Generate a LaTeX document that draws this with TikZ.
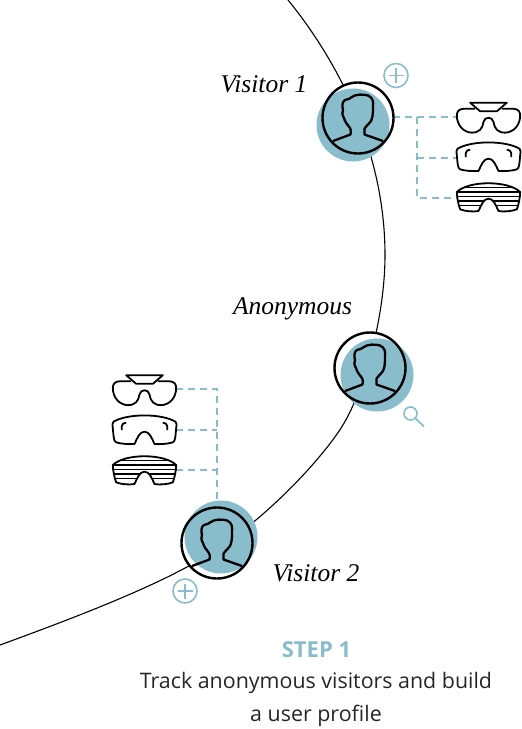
\documentclass[tikz,border=0pt]{standalone}
\usepackage{fontspec}
\setmainfont{Open Sans}
\newfontfamily\scriptface{Liberation Serif}
\definecolor{teal}{HTML}{8ABDCB}
\tikzset{
  link/.style={draw=teal,line width=1.6pt,dash pattern=on 7pt off 5pt},
  disc/.style={circle,fill=teal,draw=none,minimum size=73pt,inner sep=0pt},
  ring/.style={circle,draw=black,line width=2.4pt,minimum size=71pt,inner sep=0pt},
  hand/.style={font=\scriptface\itshape\fontsize{25.5}{25.5}\selectfont,inner sep=0pt},
  glass/.style={draw=black,line width=1.8pt,line join=round},
  plusicon/.pic={
    \draw[teal,line width=1.6pt] (0,0) circle (12);
    \draw[teal,line width=1.6pt] (-7.5,0) -- (7.5,0) (0,-7.5) -- (0,7.5);
  },
  person/.pic={
    \draw[black,line width=2.3pt,line join=round]
      (-25,23) -- (-7.5,16.5) .. controls (-7,13) and (-7,11) .. (-8,10)
      .. controls (-11,6) and (-13,4) .. (-14,0)
      .. controls (-16,-3) and (-16,-6) .. (-15,-8)
      .. controls (-16,-12) and (-16,-16) .. (-13,-18)
      .. controls (-10,-19) and (-8,-19) .. (-7,-20.5)
      .. controls (-3,-24) and (6,-24) .. (10,-22.5)
      .. controls (15,-20.5) and (15.5,-16) .. (15,-11)
      .. controls (15,-6) and (15,-1) .. (13,3)
      .. controls (10,7) and (7,9) .. (6.5,11) -- (6.5,16.5) -- (25,23);
  },
  glassone/.pic={
    \begin{scope}[x=.3333pt,y=-.3333pt]
    \draw[glass] (-55,-43) -- (55,-43) -- (25,-17) -- (-25,-17) -- cycle;
    \draw[glass] (-40,-25) -- (-72,-25) .. controls (-90,-25) and (-95,-15) .. (-95,-5)
      .. controls (-95,25) and (-75,46) .. (-50,47)
      .. controls (-28,47) and (-18,35) .. (-15,15)
      .. controls (-12,-2) and (12,-2) .. (15,15)
      .. controls (18,35) and (28,47) .. (50,47)
      .. controls (75,46) and (95,25) .. (95,-5)
      .. controls (95,-15) and (90,-25) .. (72,-25) -- (40,-25);
    \end{scope}
  },
  glasstwo/.pic={
    \begin{scope}[x=.3333pt,y=-.3333pt]
    \draw[glass] (-93,-25) .. controls (-50,-50) and (50,-50) .. (93,-25)
      .. controls (97,-20) and (97,-15) .. (95,-5)
      .. controls (93,15) and (93,35) .. (85,37)
      .. controls (70,42) and (45,43) .. (30,42)
      .. controls (22,25) and (15,5) .. (0,5)
      .. controls (-15,5) and (-22,25) .. (-30,42)
      .. controls (-45,43) and (-70,42) .. (-85,37)
      .. controls (-93,35) and (-93,15) .. (-95,-5)
      .. controls (-97,-15) and (-97,-20) .. (-93,-25) -- cycle;
    \draw[glass] (-68,0) -- (-68,-12) .. controls (-68,-18) and (-62,-22) .. (-55,-22);
    \draw[glass] (68,0) -- (68,-12) .. controls (68,-18) and (62,-22) .. (55,-22);
    \end{scope}
  },
  glassthree/.pic={
    \begin{scope}[x=.3333pt,y=-.3333pt]
    \path[save path=\lensoutline] (-95,-15) .. controls (-60,-50) and (60,-50) .. (95,-15)
      .. controls (95,0) and (90,25) .. (85,37)
      .. controls (70,43) and (45,45) .. (30,42)
      .. controls (22,25) and (15,5) .. (0,5)
      .. controls (-15,5) and (-22,25) .. (-30,42)
      .. controls (-45,45) and (-70,43) .. (-85,37)
      .. controls (-90,25) and (-95,0) .. (-95,-15) -- cycle;
    \begin{scope}
      \clip[use path=\lensoutline];
      \draw[black,line width=1.6pt] (-100,-28) -- (100,-28) (-100,-15) -- (100,-15)
        (-100,-1) -- (100,-1) (-100,12) -- (100,12) (-100,25) -- (100,25);
    \end{scope}
    \draw[glass,use path=\lensoutline];
    \end{scope}
  }
}
\begin{document}
\begin{tikzpicture}[x=1pt,y=-1pt]
\useasboundingbox (0,0) rectangle (522,729);
% arc
\draw[black,line width=1.1pt] (288,0) .. controls (345,70) and (385,160) .. (385,255)
  .. controls (385,320) and (362,400) .. (337,434)
  .. controls (312,470) and (250,535) .. (187,567)
  .. controls (135,595) and (60,623) .. (0,645);
% dashed links (behind people)
\coordinate (g1a) at (457,117);
\coordinate (g1b) at (457,158);
\coordinate (g1c) at (457,198);
\coordinate (j1a) at (417,117);
\coordinate (j1b) at (417,158);
\coordinate (j1c) at (417,198);
\coordinate (g2a) at (176,389);
\coordinate (g2b) at (176,430);
\coordinate (g2c) at (176,470);
\coordinate (j2a) at (217,389);
\coordinate (j2b) at (217,430);
\coordinate (j2c) at (217,470);
\coordinate (s1) at (393,117);
\coordinate (s2) at (217,505);
\draw[link] (s1) -- (j1a) -- (g1a);
\draw[link] (j1a) -- (j1c) -- (g1c);
\draw[link] (j1b) -- (g1b);
\draw[link] (g2a) -- (j2a) -- (s2);
\draw[link] (g2b) -- (j2b);
\draw[link] (g2c) -- (j2c);
% people
\node[circle,fill=white,minimum size=71pt] at (358,118) {};
\node[disc] (d1) at (353,125) {};
\node[ring] (r1) at (358,118) {};
\pic at (358,118) {person};
\node[circle,fill=white,minimum size=71pt] at (370,368) {};
\node[disc] (d2) at (377,375) {};
\node[ring] (r2) at (370,368) {};
\pic at (370,368) {person};
\node[circle,fill=white,minimum size=71pt] at (217,543) {};
\node[disc] (d3) at (221,537) {};
\node[ring] (r3) at (217,543) {};
\pic at (217,543) {person};
% glasses
\pic at (488.5,117) {glassone};
\pic at (488.5,157) {glasstwo};
\pic at (488.5,197) {glassthree};
\pic at (144.5,389.5) {glassone};
\pic at (144.5,430) {glasstwo};
\pic at (144.5,470) {glassthree};
% icons
\pic at (396,75.5) {plusicon};
\pic at (185,591) {plusicon};
\draw[teal,line width=1.6pt] (410.5,413.5) circle (6.5);
\draw[teal,line width=1.8pt] (415,418) -- (424,426.5);
% labels
\node[hand] (v1) at (264,84) {Visitor 1};
\node[hand] (an) at (292.5,309) {Anonymous};
\node[hand] (v2) at (316,573) {Visitor 2};
\node[font=\bfseries\fontsize{22}{22}\selectfont,text=teal,inner sep=0pt] (st) at (316.5,650) {STEP 1};
\node[font=\fontsize{21.4}{21.4}\selectfont,text=black!85,inner sep=0pt] (t1) at (316,683) {Track anonymous visitors and build};
\node[font=\fontsize{21.4}{21.4}\selectfont,text=black!85,inner sep=0pt] (t2) at (316,716) {a user profile};
\end{tikzpicture}
\end{document}
